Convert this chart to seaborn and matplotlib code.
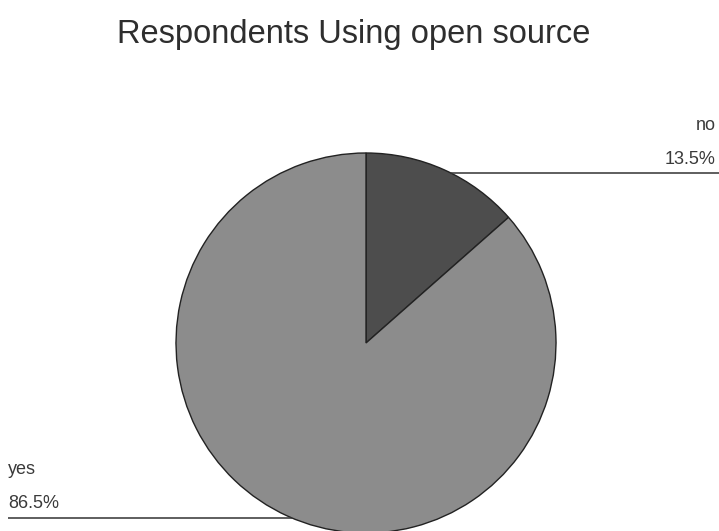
import matplotlib.pyplot as plt
import numpy as np
import seaborn as sns

sns.set_theme(style='white')
plt.rcParams['font.family'] = ['Liberation Sans', 'DejaVu Sans']

answers = ['no', 'yes']
shares = [13.5, 86.5]
share_labels = ['13.5%', '86.5%']
slice_colors = ['#4d4d4d', '#8c8c8c']

W, H = 719, 531
center = (366, 188)
radius = 190

fig = plt.figure(figsize=(W / 100, H / 100), dpi=100)
ax = fig.add_axes([0, 0, 1, 1])

ax.pie(
    shares,
    colors=slice_colors,
    startangle=90,
    counterclock=False,
    center=center,
    radius=radius,
    frame=True,
    wedgeprops={'edgecolor': '#222222', 'linewidth': 1.0},
)
ax.set_xlim(0, W)
ax.set_ylim(0, H)
ax.set_aspect('equal')
ax.axis('off')


def leader(y, side):
    # horizontal leader line from circle edge out to the figure border
    dx = np.sqrt(radius ** 2 - (y - center[1]) ** 2)
    if side == 'right':
        xs = [center[0] + dx, W]
    else:
        xs = [8, center[0] - dx]
    ax.plot(xs, [y, y], color='#333333', lw=1.1, solid_capstyle='butt')


txt = dict(fontsize=13, color='#3a3a3a')

# "no" label, top right
leader(358, 'right')
ax.text(716, 406, answers[0], ha='right', va='center', **txt)
ax.text(716, 372, share_labels[0], ha='right', va='center', **txt)

# "yes" label, bottom left
leader(13, 'left')
ax.text(8, 61, answers[1], ha='left', va='center', **txt)
ax.text(8, 27, share_labels[1], ha='left', va='center', **txt)

ax.text(354, 497, 'Respondents Using open source', ha='center', va='center',
        fontsize=23.5, color='#2e2e2e')

fig.savefig('out.png', dpi=100)
